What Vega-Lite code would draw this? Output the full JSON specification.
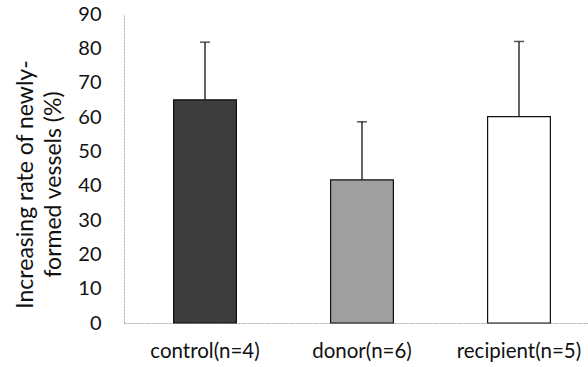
{
  "$schema": "https://vega.github.io/schema/vega-lite/v6.json",
  "width": 476,
  "height": 309,
  "autosize": "none",
  "padding": {"left": 124, "top": 14, "right": 0, "bottom": 44},
  "background": "white",
  "config": {"view": {"stroke": null}, "font": "Lato"},
  "data": {"values": [
    {"group": "control(n=4)", "value": 65, "upper": 81.8},
    {"group": "donor(n=6)", "value": 41.7, "upper": 58.6},
    {"group": "recipient(n=5)", "value": 60.1, "upper": 82}
  ]},
  "encoding": {
    "x": {"field": "group", "type": "nominal", "sort": null,
      "scale": {"paddingInner": 0.6, "paddingOuter": 0.316},
      "axis": {"title": null, "labelAngle": 0, "labelFontSize": 20.5, "labelColor": "#111", "labelPadding": 18, "ticks": false, "domainColor": "#aaa", "domainWidth": 1, "domainDash": [2, 1]}},
    "y": {"field": "value", "type": "quantitative",
      "scale": {"domain": [0, 90]},
      "axis": {"values": [0,10,20,30,40,50,60,70,80,90], "labelOverlap": false, "grid": false, "ticks": false, "labelFontSize": 20, "labelColor": "#111", "labelPadding": 23, "domainColor": "#aaa", "domainDash": [2, 1],
        "title": ["Increasing rate of newly-", "formed vessels (%)"], "titleFontSize": 23, "titleFontWeight": "normal", "titleColor": "#111", "titleLineHeight": 28, "titleX": -110, "titleY": 170, "titleBaseline": "top", "titleAngle": -90}}
  },
  "layer": [
    {
      "mark": {"type": "bar", "stroke": "#111", "strokeWidth": 1.2},
      "encoding": {
        "fill": {"field": "group", "type": "nominal", "legend": null,
          "scale": {"domain": ["control(n=4)", "donor(n=6)", "recipient(n=5)"], "range": ["#3d3d3d", "#9f9f9f", "#ffffff"]}}
      }
    },
    {
      "mark": {"type": "rule", "color": "#111", "strokeWidth": 1.3},
      "encoding": {
        "y2": {"field": "upper"}
      }
    },
    {
      "mark": {"type": "tick", "color": "#111", "thickness": 1.5, "size": 10},
      "encoding": {
        "y": {"field": "upper", "type": "quantitative"}
      }
    }
  ]
}
